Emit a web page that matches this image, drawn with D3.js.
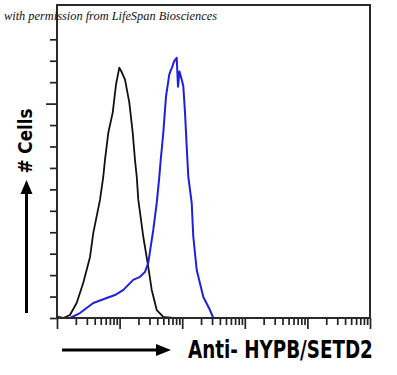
<!DOCTYPE html>
<html><head><meta charset="utf-8">
<script src="https://cdn.jsdelivr.net/npm/d3@7"></script>
<style>html,body{margin:0;padding:0;background:#fff;}svg{display:block;}</style>
</head><body>
<script>
// Control (black) histogram: fluorescence intensity vs count
const controlX = [1.0, 1.05, 1.26, 1.61, 2.06, 2.63, 3.37, 3.80, 4.86, 5.49, 5.84, 6.60, 7.76, 8.76, 9.89, 10.9, 12.2, 14.3, 16.2, 17.6, 18.8, 19.9, 23.9, 28.7, 32.6, 39.2, 49.9, 72.1];
const controlY = [1.0, 0.5, 0, 1.4, 7.0, 16.4, 28.5, 39.7, 55.1, 65.9, 73.8, 86.4, 95.8, 108.9, 116.8, 114.5, 111.2, 100.5, 86.4, 73.8, 65.9, 55.1, 37.9, 23.8, 13.1, 3.7, 0.5, 0];
// Anti-HYPB/SETD2 (blue) histogram
const stainX = [1.61, 2.33, 3.80, 6.22, 8.44, 11.5, 16.5, 21.2, 25.5, 28.7, 34.5, 39.2, 43.1, 45.4, 49.9, 55.1, 62.2, 65.5, 68.7, 73.9, 81.7, 85.7, 90.5, 98.2, 104.2, 110.9, 118.1, 125.1, 141.8, 150.4, 170.6, 217.4, 277.9, 314.1];
const stainY = [0, 2.3, 7.0, 9.3, 10.7, 13.1, 17.8, 19.2, 21.5, 25.7, 41.1, 53.7, 65.9, 73.8, 86.4, 103.3, 113.6, 115.5, 116.8, 119.6, 121.4, 107.9, 115.0, 111.2, 108.1, 95.8, 79.9, 65.9, 53.7, 37.9, 22.4, 9.8, 3.7, 0];
const yTicks = [0, 10, 20, 30, 40, 50, 60, 70, 80, 90, 100, 110, 120, 130];
const decades = [1, 10, 100, 1000, 10000, 100000];
const credit = "with permission from LifeSpan Biosciences";
const yLabel = "# Cells";
const xLabel = "Anti- HYPB/SETD2";

const W = 397, H = 375;
const mLeft = 57, mRight = 370, mTop = 5, mBottom = 318;

const svg = d3.select("body").append("svg").attr("width", W).attr("height", H);
svg.append("rect").attr("width", W).attr("height", H).attr("fill", "#fff");

const x = d3.scaleLog().domain([1, 100000]).range([mLeft, mRight]);
const y = d3.scaleLinear().domain([0, 146]).range([mBottom, mTop]);

// minor x ticks
const minor = [];
decades.slice(0, -1).forEach(d => { for (let k = 2; k <= 9; k++) minor.push(d * k); });

const xAxisMinor = d3.axisBottom(x).tickValues(minor).tickSize(7).tickFormat("");
const xAxisMajor = d3.axisBottom(x).tickValues(decades).tickSize(11).tickFormat("");
const gxm = svg.append("g").attr("transform", `translate(0,${mBottom})`).call(xAxisMinor);
const gxM = svg.append("g").attr("transform", `translate(0,${mBottom})`).call(xAxisMajor);
[gxm, gxM].forEach(g => { g.select(".domain").remove(); g.selectAll("line").attr("stroke", "#222").attr("stroke-width", 1.7); });

const yAxis = d3.axisLeft(y).tickValues(yTicks).tickSize(7).tickFormat("");
const gy = svg.append("g").attr("transform", `translate(${mLeft},0)`).call(yAxis);
gy.select(".domain").remove();
gy.selectAll("line").attr("stroke", "#222").attr("stroke-width", 1.7)
  .attr("x2", d => d === 100 ? -11 : -7);

const line = d3.line().x(d => x(d[0])).y(d => y(d[1]));
svg.append("path").datum(d3.zip(controlX, controlY)).attr("d", line)
  .attr("fill", "none").attr("stroke", "#111").attr("stroke-width", 1.8).attr("stroke-linejoin", "round");
svg.append("path").datum(d3.zip(stainX, stainY)).attr("d", line)
  .attr("fill", "none").attr("stroke", "#1f1fe0").attr("stroke-width", 2).attr("stroke-linejoin", "round");

// frame
svg.append("rect").attr("x", mLeft).attr("y", mTop).attr("width", mRight - mLeft).attr("height", mBottom - mTop)
  .attr("fill", "none").attr("stroke", "#2a2a2a").attr("stroke-width", 2);

// credit text
svg.append("text").attr("x", 4).attr("y", 20).text(credit)
  .attr("font-family", "'Liberation Serif', 'DejaVu Serif', serif").attr("font-style", "italic")
  .attr("font-size", 12).attr("fill", "#111")
  .attr("textLength", 213).attr("lengthAdjust", "spacingAndGlyphs");

// y label + arrow
svg.append("text").attr("transform", "translate(32,141) rotate(-90)")
  .attr("text-anchor", "middle").text(yLabel)
  .attr("font-family", "'DejaVu Sans', sans-serif").attr("font-weight", "bold").attr("font-size", 19)
  .attr("fill", "#000").attr("textLength", 65).attr("lengthAdjust", "spacingAndGlyphs");
svg.append("line").attr("x1", 26.5).attr("x2", 26.5).attr("y1", 313).attr("y2", 190)
  .attr("stroke", "#000").attr("stroke-width", 3);
svg.append("path").attr("d", "M26.5,180 L20.5,194 L32.5,194 Z").attr("fill", "#000");

// x label + arrow
svg.append("line").attr("x1", 62).attr("x2", 160).attr("y1", 350).attr("y2", 350)
  .attr("stroke", "#000").attr("stroke-width", 3);
svg.append("path").attr("d", "M171,350 L156,344 L156,356 Z").attr("fill", "#000");
const xl = svg.append("text").attr("x", 0).attr("y", 0).text(xLabel)
  .attr("font-family", "'DejaVu Sans', sans-serif").attr("font-weight", "bold").attr("font-size", 24)
  .attr("fill", "#000");
const natW = xl.node().getComputedTextLength();
xl.attr("transform", `translate(188,358) scale(${185 / natW},1)`);
</script>
</body></html>
